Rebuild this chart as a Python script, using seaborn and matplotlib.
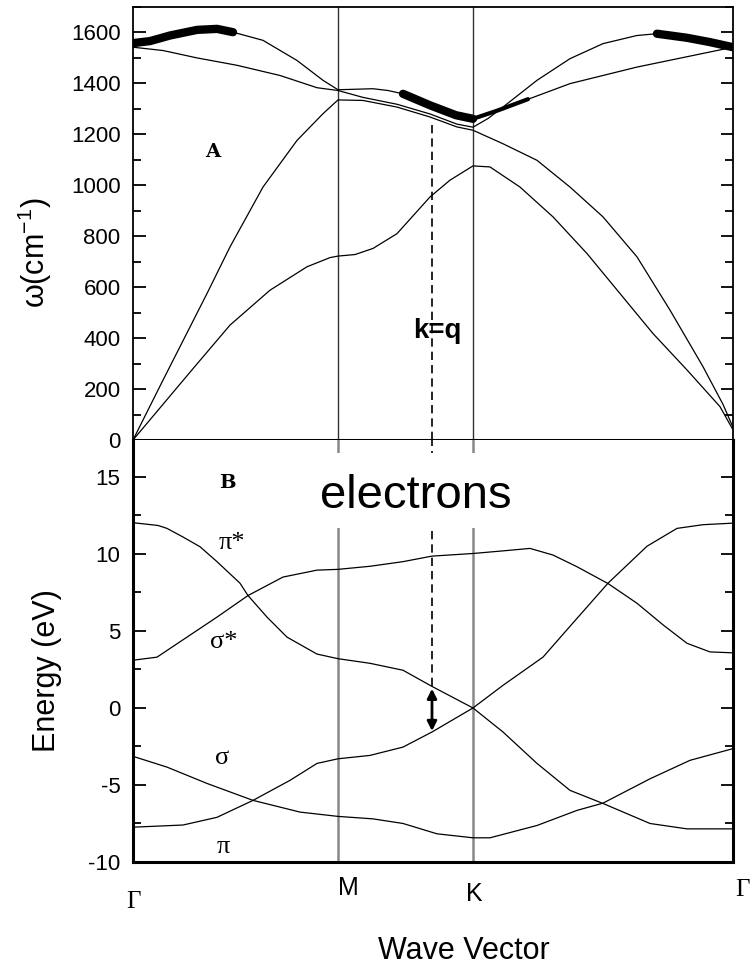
import seaborn as sns
import matplotlib.pyplot as plt
from matplotlib.patches import Rectangle
from matplotlib.ticker import MultipleLocator

# symmetry points along the path (wave-vector units)
sym_pos = [0, 205, 340, 600]
sym_labels = ['Γ', 'M', 'K', 'Γ']
kq_pos = 299

# ---- phonon branches (cm^-1) ----
ta_q = [0, 30, 60, 97, 137, 174, 197, 205, 222, 240, 264, 297, 317, 340, 357, 387, 420, 454, 487, 520, 554, 587, 600]
ta_w = [0, 140, 280, 451, 588, 680, 716, 722, 728, 752, 810, 954, 1020, 1076, 1072, 993, 876, 732, 575, 418, 275, 131, 40]

la_q = [0, 30, 74, 97, 130, 164, 190, 205, 230, 264, 297, 324, 340, 370, 404, 437, 470, 504, 537, 570, 590, 600]
la_w = [0, 235, 575, 758, 993, 1176, 1281, 1335, 1333, 1307, 1268, 1229, 1216, 1163, 1098, 993, 876, 719, 510, 288, 140, 50]

to_q = [0, 30, 64, 104, 147, 184, 205, 230, 264, 297, 324, 340, 355, 370, 404, 437, 470, 504, 524, 554, 577, 600]
to_w = [1542, 1529, 1500, 1471, 1431, 1383, 1372, 1345, 1318, 1280, 1240, 1228, 1262, 1307, 1412, 1497, 1556, 1588, 1595, 1579, 1562, 1542]

lo_q = [0, 17, 37, 64, 84, 100, 130, 164, 190, 205, 240, 255, 270, 297, 323, 340, 370, 437, 504, 600]
lo_w = [1562, 1569, 1588, 1610, 1614, 1601, 1569, 1490, 1412, 1375, 1379, 1372, 1359, 1314, 1275, 1261, 1301, 1399, 1464, 1542]

# highlighted (thick) phonon segments
hl1_q = [0, 17, 37, 64, 84, 100]
hl1_w = [1558, 1566, 1588, 1610, 1614, 1601]
hl2_q = [270, 297, 323, 340]
hl2_w = [1359, 1314, 1275, 1261]
hl2b_q = [340, 365, 395]
hl2b_w = [1261, 1294, 1338]
hl3_q = [524, 554, 577, 600]
hl3_w = [1595, 1579, 1562, 1542]

# ---- electron bands (eV) ----
pistar_q = [0, 25, 34, 50, 67, 84, 107, 115, 134, 154, 184, 205, 237, 270, 299, 340, 370, 404, 437, 470, 517, 554, 600]
pistar_E = [12.03, 11.85, 11.66, 11.1, 10.47, 9.5, 8.1, 7.3, 5.9, 4.6, 3.5, 3.2, 2.9, 2.45, 1.4, 0.0, -1.56, -3.6, -5.35, -6.2, -7.5, -7.85, -7.85]

pi_q = [0, 50, 84, 120, 157, 184, 205, 237, 270, 299, 340, 370, 410, 437, 475, 514, 544, 570, 600]
pi_E = [-7.74, -7.6, -7.1, -6.0, -4.7, -3.6, -3.3, -3.08, -2.54, -1.56, 0.0, 1.47, 3.3, 5.3, 8.1, 10.5, 11.66, 11.9, 12.0]

sigstar_q = [0, 24, 54, 84, 115, 150, 184, 205, 237, 270, 299, 340, 370, 397, 420, 444, 475, 504, 530, 554, 577, 600]
sigstar_E = [3.1, 3.3, 4.6, 5.9, 7.3, 8.5, 8.95, 9.0, 9.2, 9.5, 9.86, 10.03, 10.2, 10.36, 9.93, 9.17, 8.08, 6.8, 5.4, 4.2, 3.64, 3.58]

sigma_q = [0, 34, 74, 120, 167, 205, 240, 270, 304, 340, 357, 404, 444, 470, 517, 557, 600]
sigma_E = [-3.14, -3.84, -4.9, -6.0, -6.76, -7.04, -7.2, -7.5, -8.17, -8.43, -8.43, -7.63, -6.65, -6.18, -4.6, -3.4, -2.64]

sns.set_style('ticks')
plt.rcParams['font.family'] = ['Liberation Sans', 'DejaVu Sans']
plt.rcParams['mathtext.default'] = 'regular'
plt.rcParams['axes.unicode_minus'] = False
plt.rcParams['text.color'] = 'black'
plt.rcParams['axes.labelcolor'] = 'black'
plt.rcParams['ytick.color'] = 'black'
plt.rcParams['xtick.color'] = 'black'

fig = plt.figure(figsize=(7.51, 9.67), dpi=100)
ax1 = fig.add_axes([0.1771, 0.545, 0.7989, 0.4478])
ax2 = fig.add_axes([0.1771, 0.1086, 0.7989, 0.4364])

# ---------------- phonons ----------------
for q, w in [(ta_q, ta_w), (la_q, la_w), (to_q, to_w), (lo_q, lo_w)]:
    sns.lineplot(x=q, y=w, ax=ax1, color='k', lw=0.9, estimator=None, sort=False)
for q, w, lw in [(hl1_q, hl1_w, 6), (hl2_q, hl2_w, 6), (hl2b_q, hl2b_w, 3), (hl3_q, hl3_w, 6)]:
    sns.lineplot(x=q, y=w, ax=ax1, color='k', lw=lw, estimator=None, sort=False,
                 solid_capstyle='round')

for p in sym_pos[1:3]:
    ax1.axvline(p, color='#333333', lw=1.0, zorder=0)
ax1.plot([kq_pos, kq_pos], [0, 1258], color='k', lw=1.2, ls=(0, (5, 3)))

ax1.set_xlim(0, 600)
ax1.set_ylim(0, 1700)
ax1.set_xticks([])
ax1.yaxis.set_major_locator(MultipleLocator(200))
ax1.yaxis.set_minor_locator(MultipleLocator(100))
ax1.set_ylabel('ω(cm$^{-1}$)', fontsize=22)
ax1.yaxis.set_label_coords(-0.132, 0.432)
ax1.text(80, 1129, 'A', family='DejaVu Serif', fontweight='bold', fontsize=14,
         ha='center', va='center')
ax1.text(304, 427, 'k=q', fontweight='bold', fontsize=20, ha='center', va='center')

# ---------------- electrons ----------------
for q, e in [(pistar_q, pistar_E), (pi_q, pi_E), (sigstar_q, sigstar_E), (sigma_q, sigma_E)]:
    sns.lineplot(x=q, y=e, ax=ax2, color='k', lw=0.9, estimator=None, sort=False)

for p in sym_pos[1:3]:
    ax2.axvline(p, color='#888888', lw=1.8, zorder=0)
ax2.plot([kq_pos, kq_pos], [1.4, 17.4], color='k', lw=1.2, ls=(0, (5, 3)))
ax2.annotate('', xy=(kq_pos, -1.5), xytext=(kq_pos, 1.25),
             arrowprops=dict(arrowstyle='<|-|>', color='k', lw=2,
                             mutation_scale=14, shrinkA=0, shrinkB=0))

ax2.add_patch(Rectangle((165, 11.68), 257, 4.88, facecolor='white',
                        edgecolor='none', zorder=5))
ax2.text(283, 12.98, 'electrons', fontsize=34, ha='center', va='baseline', zorder=6)

ax2.set_xlim(0, 600)
ax2.set_ylim(-10, 17.4)
ax2.set_xticks([])
ax2.yaxis.set_major_locator(MultipleLocator(5))
ax2.yaxis.set_minor_locator(MultipleLocator(2.5))
ax2.set_ylabel('Energy (eV)', fontsize=22)
ax2.yaxis.set_label_coords(-0.118, 0.453)

serif = ['Liberation Serif', 'DejaVu Serif']
ax2.text(94, 14.6, 'B', family='DejaVu Serif', fontweight='bold', fontsize=14,
         ha='center', va='center')
ax2.text(99, 10.7, 'π*', family=serif, fontsize=19, ha='center', va='center')
ax2.text(91, 4.3, 'σ*', family=serif, fontsize=19, ha='center', va='center')
ax2.text(89, -3.27, 'σ', family=serif, fontsize=19, ha='center', va='center')
ax2.text(90, -9.05, 'π', family=serif, fontsize=19, ha='center', va='center')

# symmetry point labels under the lower panel
label_x = [0, 215, 341, 609]
label_y = [-12.57, -11.72, -12.11, -11.85]
for x, y, t in zip(label_x, label_y, sym_labels):
    fam = serif if t == 'Γ' else ['Liberation Sans']
    ax2.text(x, y, t, family=fam, fontsize=18, ha='center', va='center', clip_on=False)

ax2.set_xlabel('Wave Vector', fontsize=22)
ax2.xaxis.set_label_coords(0.552, -0.175)

for ax in (ax1, ax2):
    ax.tick_params(axis='y', which='both', direction='in', left=True, right=True,
                   labelsize=16, pad=9)
    ax.tick_params(axis='y', which='major', length=9, width=1.3)
    ax.tick_params(axis='y', which='minor', length=6, width=1.3)
    for s in ax.spines.values():
        s.set_linewidth(1.3)
        s.set_color('k')
ax1.spines['bottom'].set_linewidth(2.2)
for s in ['left', 'bottom', 'right']:
    ax2.spines[s].set_linewidth(2.2)
ax2.spines['top'].set_visible(False)

fig.savefig('out.png', dpi=100)
